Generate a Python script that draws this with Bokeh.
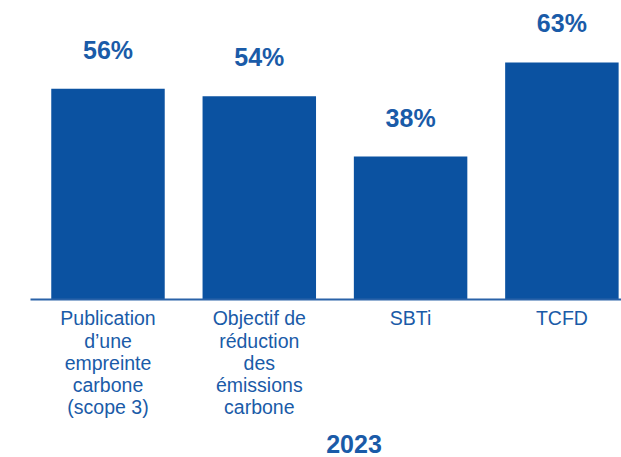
from bokeh.plotting import figure
from bokeh.models import Range1d, ColumnDataSource, Label
from bokeh.core.properties import value
from bokeh.embed import file_html
from bokeh.resources import INLINE

categories = ["Publication\nd\u2019une\nempreinte\ncarbone\n(scope 3)",
              "Objectif de\nr\u00e9duction\ndes\n\u00e9missions\ncarbone",
              "SBTi",
              "TCFD"]
values = [56, 54, 38, 63]
value_labels = ["56%", "54%", "38%", "63%"]
year_label = "2023"

BAR = "#0B52A1"
TXT = "#1A5BA8"
FONT = "Liberation Sans"

xs = list(range(len(categories)))
src = ColumnDataSource(dict(x=xs, top=values, cat=categories, lab=value_labels))

p = figure(width=621, height=457, output_backend="svg", toolbar_location=None,
           x_range=Range1d(-0.7105, 3.394), y_range=Range1d(-42.0, 79.48),
           min_border=0, outline_line_color=None)
p.axis.visible = False
p.grid.visible = False

p.vbar(x="x", top="top", bottom=0, width=0.75, source=src,
       fill_color=BAR, line_color=None)
p.segment(x0=[-0.5122], y0=[0], x1=[3.394], y1=[0], line_color="#2A62A8", line_width=2)

p.text(x="x", y="top", text="lab", source=src, y_offset=-39,
       text_align="center", text_baseline="alphabetic",
       text_font=value(FONT), text_font_style="bold", text_font_size="25px",
       text_color=TXT)

p.text(x="x", y=0, text="cat", source=src, y_offset=8,
       text_align="center", text_baseline="top", text_line_height=1.01,
       text_font=value(FONT), text_font_size="19.5px", text_color=TXT)

p.add_layout(Label(x=353.5, y=14, x_units="screen", y_units="screen",
                   text=year_label, text_align="center", text_baseline="alphabetic",
                   text_font=FONT, text_font_style="bold", text_font_size="25px",
                   text_color=TXT))

open("out.html", "w").write(file_html(p, INLINE))
